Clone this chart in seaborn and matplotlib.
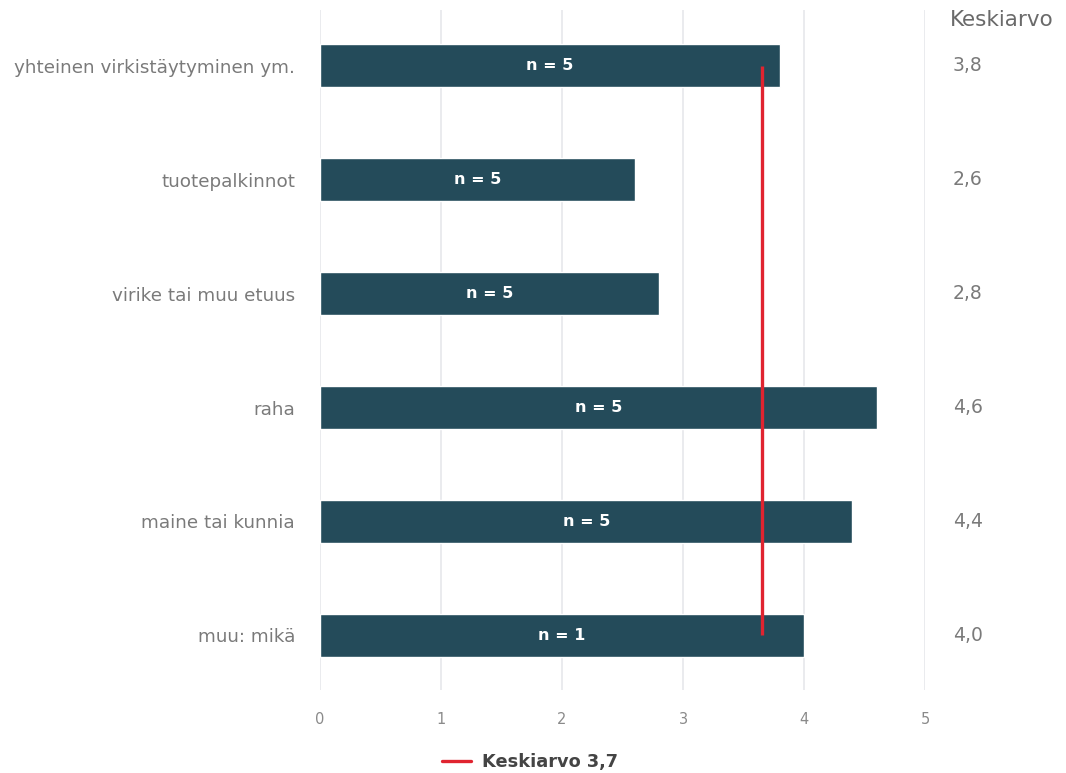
import numpy as np
import pandas as pd
import matplotlib
matplotlib.use("Agg")
import matplotlib.pyplot as plt
import matplotlib.transforms as mtransforms
from matplotlib.lines import Line2D
import seaborn as sns

categories = [
    "yhteinen virkistäytyminen ym.",
    "tuotepalkinnot",
    "virike tai muu etuus",
    "raha",
    "maine tai kunnia",
    "muu: mikä",
]
means = [3.8, 2.6, 2.8, 4.6, 4.4, 4.0]
counts = [5, 5, 5, 5, 5, 1]
x_ticks = [0, 1, 2, 3, 4, 5]

BAR = "#244b5a"
RED = "#e02430"
GRAY = "#7a7a7a"

sns.set_theme(style="white")
plt.rcParams["font.family"] = ["DejaVu Sans"]

df = pd.DataFrame({"kategoria": categories, "keskiarvo": means, "n": counts})
overall = np.average(df["keskiarvo"], weights=df["n"])

fig = plt.figure(figsize=(10.66, 7.73), dpi=100)
ax = fig.add_axes([320 / 1066, 1 - 690 / 773, 605 / 1066, 680 / 773])

sns.barplot(data=df, x="keskiarvo", y="kategoria", orient="h",
            color=BAR, saturation=1, width=0.38, ax=ax, zorder=2)

for i, (v, n) in enumerate(zip(df["keskiarvo"], df["n"])):
    ax.text(v / 2, i, f"n = {n}", ha="center", va="center",
            color="white", fontsize=11.5, fontweight="bold", zorder=4)

ax.vlines(overall, 0, len(categories) - 1, color=RED, linewidth=2.4, zorder=3)

ax.set_xlim(0, 5)
ax.set_ylim(len(categories) - 0.52, -0.49)
ax.set_xticks(x_ticks)
ax.set_xticklabels([str(t) for t in x_ticks])
ax.grid(axis="x", color="#e4e6ea", linewidth=1.1, zorder=0)
ax.grid(axis="y", visible=False)
for s in ax.spines.values():
    s.set_visible(False)
ax.set_xlabel("")
ax.set_ylabel("")
ax.tick_params(axis="x", length=0, pad=16, labelsize=10.5, labelcolor="#8a8a8a")
ax.tick_params(axis="y", length=0, pad=18, labelsize=13.2, labelcolor=GRAY)

# Average column on the right
tr = mtransforms.blended_transform_factory(fig.transFigure, ax.transData)
for i, v in enumerate(df["keskiarvo"]):
    ax.text(953 / 1066, i, f"{v:.1f}".replace(".", ","), transform=tr,
            ha="left", va="center", fontsize=13.5, color=GRAY)
fig.text(950 / 1066, 1 - 20 / 773, "Keskiarvo", ha="left", va="center",
         fontsize=15.5, color="#6a6a6a")

handle = Line2D([], [], color=RED, linewidth=2.4)
fig.legend([handle], [f"Keskiarvo {overall:.1f}".replace(".", ",")],
           loc="center", bbox_to_anchor=(530 / 1066, 1 - 762 / 773),
           frameon=False, handlelength=1.6, handletextpad=0.6,
           prop={"weight": "bold", "size": 12.8}, labelcolor="#444444")

fig.savefig("out.png", dpi=100, facecolor="white")
